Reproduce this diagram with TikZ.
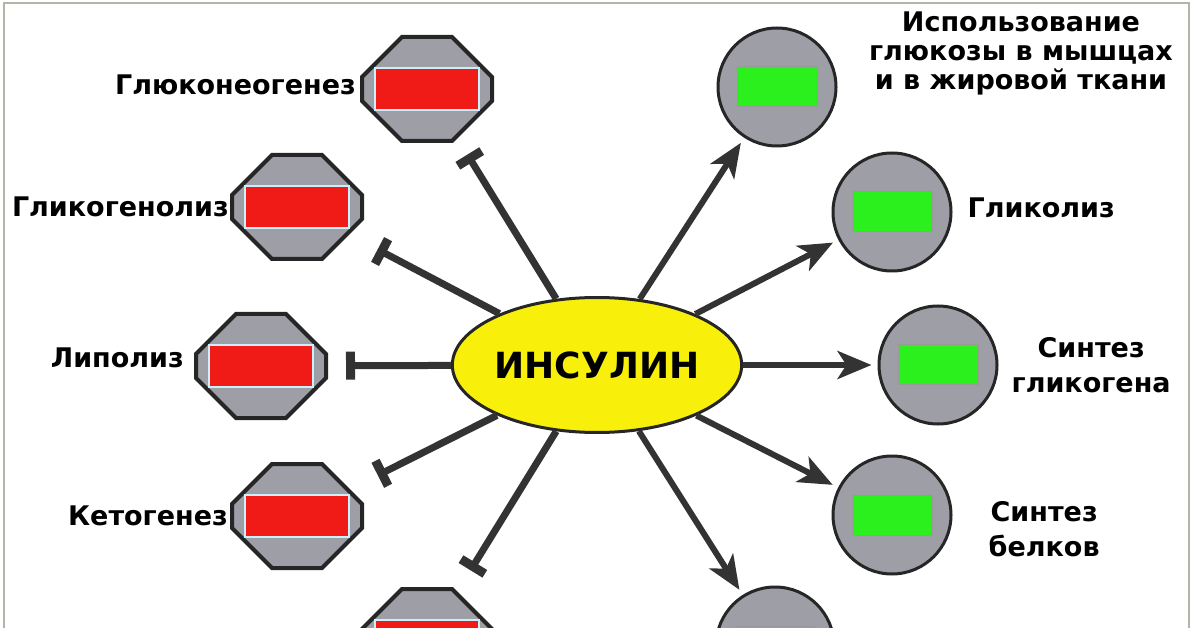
\documentclass[tikz,border=0pt]{standalone}
\usepackage{fontspec}
\setmainfont{DejaVu Sans}
\usetikzlibrary{positioning,shapes.geometric,shapes.misc,arrows.meta}
\definecolor{boxred}{RGB}{240,26,22}
\definecolor{boxgreen}{RGB}{44,240,30}
\definecolor{discgray}{RGB}{158,158,166}
\definecolor{insyellow}{RGB}{248,240,10}
\definecolor{framegray}{RGB}{178,182,166}
\newcommand{\octbody}{\phantom{\rule{90pt}{64pt}}}

\begin{document}
\begin{tikzpicture}[x=1pt,y=-1pt,
    font=\bfseries\fontsize{27}{35}\selectfont,
    stop node/.style={chamfered rectangle,chamfered rectangle xsep=20pt,
      chamfered rectangle ysep=20pt,
      inner sep=0pt,draw=black!85,line width=4pt,fill=discgray},
    go node/.style={circle,minimum size=118pt,inner sep=0pt,
      draw=black!85,line width=3pt,fill=discgray},
    red bar/.style={rectangle,minimum width=104pt,minimum height=42pt,
      inner sep=0pt,fill=boxred,draw=white!80!cyan,line width=1.5pt},
    green bar/.style={rectangle,minimum width=80pt,minimum height=40pt,
      inner sep=0pt,fill=boxgreen,draw=black!40,line width=1pt},
    lbl/.style={inner sep=0pt,align=center},
    stop line/.style={black!80,line width=7pt,
      -{Bar[width=28pt,line width=9pt]}},
    go line/.style={black!80,line width=6pt,shorten >=6pt,
      -{Stealth[length=34pt,width=28pt,inset=9pt]}}]
    \useasboundingbox (0,0) rectangle (1200,628);
    \draw[framegray,line width=2pt] (4,3) rectangle (1189,660);
    % centre
      \node[ellipse,draw=black!85,line width=3pt,fill=insyellow,
        minimum width=218pt,minimum height=135pt,inner sep=0pt,
        font=\bfseries\fontsize{36}{36}\selectfont] (ins) at (597,365) {ИНСУЛИН};
    % nodes, left
      \node[stop node] (g1) at (427,89) {\octbody};
      \node[stop node] (g2) at (297,207) {\octbody};
      \node[stop node] (g3) at (261,366) {\octbody};
      \node[stop node] (g4) at (297,516) {\octbody};
      \node[stop node] (g5) at (427,641) {\octbody};
      \foreach \i in {1,...,5}
        \node[red bar] (r\i) at (g\i) {};
    % nodes, right
      \node[go node] (c1) at (777,87) {};
      \node[go node] (c2) at (892,212) {};
      \node[go node] (c3) at (938,365) {};
      \node[go node] (c4) at (892,515) {};
      \node[go node] (c5) at (775,646) {};
      \foreach \i in {1,...,5}
        \node[green bar] (v\i) at (c\i) {};
    % labels
      \node[lbl] (l1) [left=4pt of g1,yshift=4pt] {Глюконеогенез};
      \node[lbl] (l2) [left=1pt of g2] {Гликогенолиз};
      \node[lbl] (l3) [left=10pt of g3,yshift=8pt] {Липолиз};
      \node[lbl] (l4) [left=2pt of g4] {Кетогенез};
      \node[lbl,font=\bfseries\fontsize{27}{29}\selectfont] (m1) at (1021,53)
        {Использование\\глюкозы в мышцах\\и в жировой ткани};
      \node[lbl] (m2) [right=15pt of c2,yshift=4pt] {Гликолиз};
      \node[lbl] (m3) [right=13pt of c3] {Синтез\\гликогена};
      \node[lbl] (m4) [right=36pt of c4,yshift=-14pt] {Синтез\\белков};
    %edges
      \path[stop line]
        (ins) edge[shorten >=19pt] (g1)
        (ins) edge[shorten >=32pt] (g2)
        (ins) edge[shorten >=18pt] (g3)
        (ins) edge[shorten >=31pt] (g4)
        (ins) edge[shorten >=25pt] (g5);
      \path[go line]
        (ins) edge (c1)
        (ins) edge (c2)
        (ins) edge (c3)
        (ins) edge (c4)
        (ins) edge (c5);
    \end{tikzpicture}
\end{document}
